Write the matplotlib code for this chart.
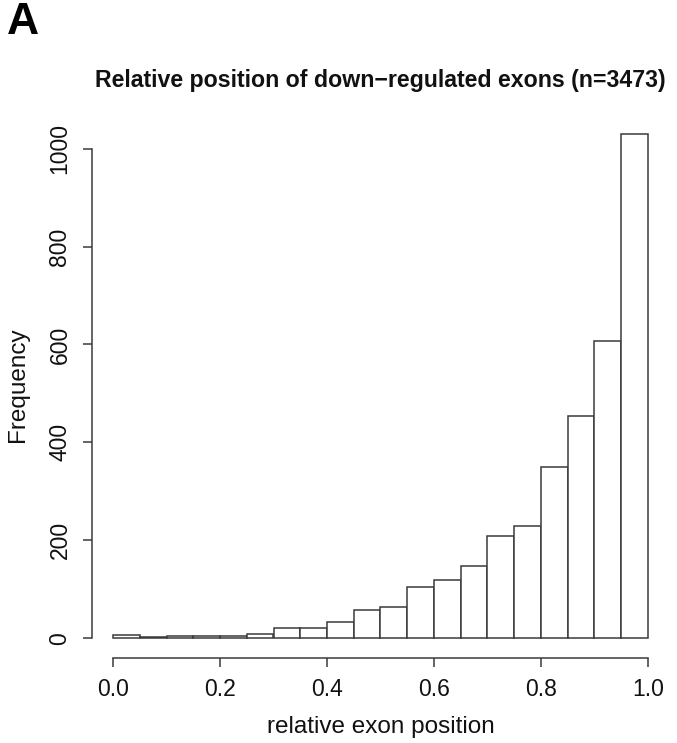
import numpy as np
import matplotlib
matplotlib.use("Agg")
import matplotlib.pyplot as plt

plt.rcParams['font.family'] = ['Liberation Sans', 'DejaVu Sans']

# Histogram data: bins of relative exon position (0..1, width 0.05)
bin_edges = [0.00, 0.05, 0.10, 0.15, 0.20, 0.25, 0.30, 0.35, 0.40, 0.45, 0.50,
             0.55, 0.60, 0.65, 0.70, 0.75, 0.80, 0.85, 0.90, 0.95, 1.00]
counts = [7, 2, 4, 4, 4, 9, 20, 20, 32, 57, 64, 104, 119, 148, 209, 230, 349, 454, 607, 1030]
x_ticks = [0.0, 0.2, 0.4, 0.6, 0.8, 1.0]
x_ticklabels = ["0.0", "0.2", "0.4", "0.6", "0.8", "1.0"]
y_ticks = [0, 200, 400, 600, 800, 1000]
y_ticklabels = ["0", "200", "400", "600", "800", "1000"]

W, H = 677, 743
fig = plt.figure(figsize=(W / 100, H / 100), dpi=100)
left, right, top, bottom = 91.6, 669.4, 113.8, 658.3
ax = fig.add_axes([left / W, (H - bottom) / H, (right - left) / W, (bottom - top) / H])

edges = np.array(bin_edges)
ax.bar(edges[:-1], counts, width=np.diff(edges), align='edge',
       facecolor='white', edgecolor='#3a3a3a', linewidth=1.1)

ymax = max(counts)
ax.set_xlim(-0.04, 1.04)
ax.set_ylim(-0.04 * ymax, 1.04 * ymax)

for s in ['top', 'right']:
    ax.spines[s].set_visible(False)
ax.spines['bottom'].set_bounds(0, 1)
ax.spines['left'].set_bounds(0, 1000)
for s in ['bottom', 'left']:
    ax.spines[s].set_color('#3a3a3a')
    ax.spines[s].set_linewidth(1.1)

ax.set_xticks(x_ticks)
ax.set_xticklabels(x_ticklabels)
ax.set_yticks(y_ticks)
ax.set_yticklabels(y_ticklabels, rotation=90, va='center')
ax.tick_params(axis='both', direction='out', length=6.5, width=1.1,
               color='#3a3a3a', labelsize=16.5, labelcolor='#111111')
ax.tick_params(axis='x', pad=8)
ax.tick_params(axis='y', pad=8)

ax.set_xlabel("relative exon position", fontsize=17.5, color='#111111', va='center')
ax.xaxis.set_label_coords(0.5, (bottom - 727) / (bottom - top))
ax.set_ylabel("Frequency", fontsize=17.5, color='#111111', va='center')
ax.yaxis.set_label_coords((18 - left) / (right - left), (bottom - 385) / (bottom - top))

fig.text((left + right) / 2 / W, 1 - 80 / H,
         "Relative position of down\u2212regulated exons (n=3473)",
         ha='center', va='center', fontsize=16.7, fontweight='bold', color='#111111')
fig.text(7 / W, 1 - 23 / H, "A", ha='left', va='center',
         fontsize=32, fontweight='bold', color='black')

fig.savefig("out.png", dpi=100)
